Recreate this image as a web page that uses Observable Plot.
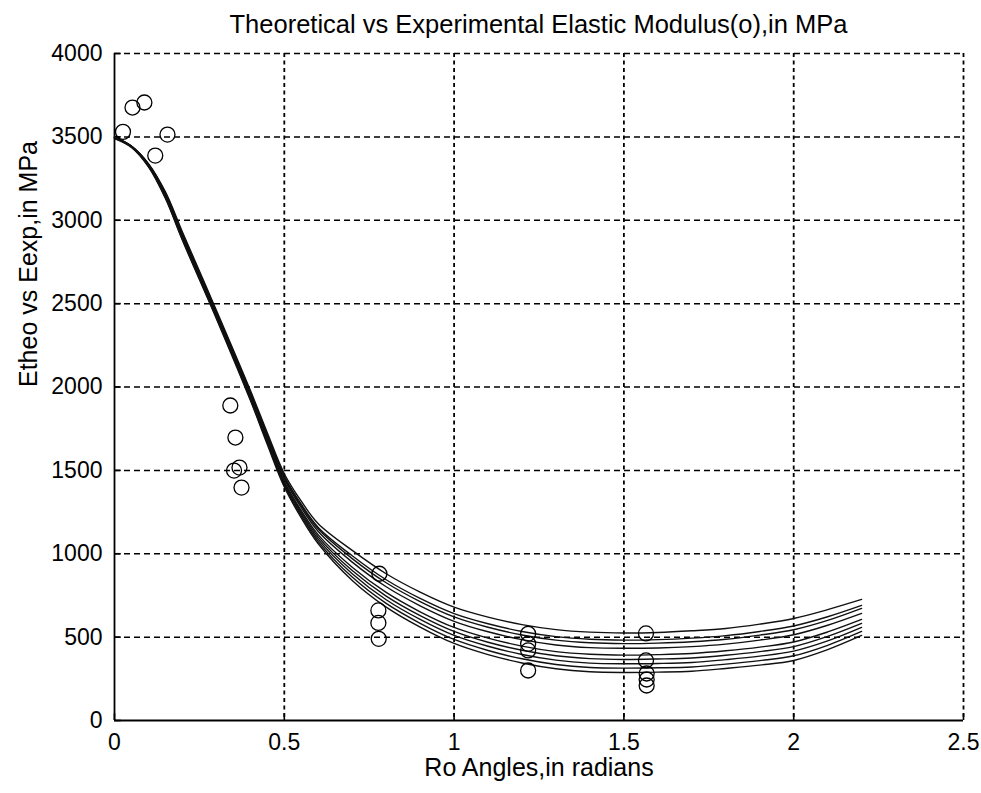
<!DOCTYPE html>
<html><head><meta charset="utf-8">
<script src="https://cdn.jsdelivr.net/npm/d3@7"></script>
<script src="https://cdn.jsdelivr.net/npm/@observablehq/plot@0.6"></script>
<style>
body{margin:0;background:#fff;}
#title{height:40px;box-sizing:border-box;padding:8px 18px 0 114px;text-align:center;font:25.5px "Liberation Sans",Arial,sans-serif;line-height:32px;color:#000;white-space:nowrap;}
</style></head><body>
<div id="title">Theoretical vs Experimental Elastic Modulus(o),in MPa</div>
<div id="chart"></div>
<script>
// tick values
const xTicks = [0, 0.5, 1, 1.5, 2, 2.5];
const yTicks = [0, 500, 1000, 1500, 2000, 2500, 3000, 3500, 4000];
const xGridLines = [0.5, 1, 1.5, 2, 2.5];
const yGridLines = [500, 1000, 1500, 2000, 2500, 3000, 3500, 4000];

// theoretical curves (angle in radians -> E in MPa)
const theoAngles = [0, 0.05, 0.1, 0.15, 0.2, 0.3, 0.4, 0.45, 0.5, 0.55, 0.6, 0.7, 0.8, 0.9, 1.0, 1.1, 1.2, 1.3, 1.4, 1.5, 1.6, 1.7, 1.8, 1.9, 2.0, 2.1, 2.2];
const curve1 = [3500, 3445, 3340, 3170, 2930, 2460, 1980, 1725, 1480, 1315, 1180, 1020, 880, 770, 680, 620, 575, 545, 530, 525, 528, 538, 552, 578, 612, 665, 726];
const curve2 = [3499, 3444, 3337, 3163, 2921, 2451, 1969, 1712, 1466, 1297, 1158, 988, 844, 732, 641, 580, 534, 503, 487, 482, 485, 494, 509, 534, 567, 622, 690];
const curve3 = [3498, 3443, 3335, 3159, 2916, 2446, 1964, 1706, 1458, 1288, 1148, 971, 826, 713, 621, 559, 513, 482, 466, 461, 464, 472, 487, 512, 544, 600, 672];
const curve4 = [3497, 3443, 3333, 3155, 2910, 2440, 1957, 1698, 1449, 1276, 1133, 950, 802, 688, 595, 532, 485, 453, 437, 433, 435, 443, 458, 482, 514, 571, 642];
const curve5 = [3496, 3442, 3330, 3148, 2902, 2432, 1946, 1686, 1435, 1259, 1113, 919, 768, 652, 558, 494, 446, 413, 397, 392, 395, 402, 418, 440, 471, 531, 606];
const curve6 = [3494, 3441, 3328, 3144, 2896, 2426, 1940, 1679, 1426, 1249, 1100, 899, 746, 629, 534, 469, 421, 388, 371, 366, 369, 375, 391, 413, 443, 504, 582];
const curve7 = [3493, 3440, 3326, 3140, 2891, 2421, 1933, 1671, 1418, 1238, 1086, 880, 724, 606, 510, 445, 396, 362, 344, 340, 342, 348, 365, 386, 416, 477, 558];
const curve8 = [3492, 3439, 3323, 3135, 2885, 2415, 1927, 1664, 1409, 1227, 1073, 860, 702, 583, 486, 420, 370, 336, 318, 314, 316, 321, 338, 359, 388, 451, 534];
const curve9 = [3490, 3437, 3320, 3130, 2880, 2410, 1920, 1655, 1400, 1215, 1060, 840, 680, 560, 462, 395, 345, 310, 292, 288, 290, 295, 312, 332, 360, 425, 510];

// experimental points
const expAngles = [0.025, 0.053, 0.088, 0.156, 0.12,
                   0.341, 0.356, 0.352, 0.368, 0.374,
                   0.78, 0.777, 0.777, 0.778,
                   1.218, 1.218, 1.218, 1.218,
                   1.565, 1.565, 1.567, 1.567, 1.567];
const expModulus = [3530, 3676, 3706, 3514, 3388,
                    1889, 1697, 1499, 1517, 1397,
                    880, 660, 585, 490,
                    520, 460, 420, 300,
                    522, 360, 282, 246, 210];

const curves = [curve1, curve2, curve3, curve4, curve5, curve6, curve7, curve8, curve9];
const theo = curves.flatMap((c, i) => c.map((v, j) => ({angle: theoAngles[j], E: v, k: i})));
const exp = expAngles.map((a, i) => ({angle: a, E: expModulus[i]}));

const font = '"Liberation Sans", Arial, sans-serif';
const chart = Plot.plot({
  width: 981, height: 753,
  marginLeft: 114, marginRight: 18, marginTop: 13, marginBottom: 73,
  style: {fontFamily: font, fontSize: "23px", color: "#000", background: "#fff", overflow: "visible"},
  x: {domain: [0, 2.5], ticks: xTicks, tickFormat: d => String(d), tickSize: 0, tickPadding: 13, label: null},
  y: {domain: [0, 4000], ticks: yTicks, tickFormat: d => String(d), tickSize: 0, tickPadding: 12, label: null},
  marks: [
    Plot.ruleY(yGridLines, {stroke: "#000", strokeWidth: 1.5, strokeDasharray: "6,4"}),
    Plot.ruleX(xGridLines, {stroke: "#000", strokeWidth: 1.8, strokeDasharray: "4,3.5"}),
    Plot.ruleX([0], {stroke: "#000", strokeWidth: 1.8}),
    Plot.ruleY([0], {stroke: "#000", strokeWidth: 1.8}),
    Plot.ruleX(xTicks, {x: d => d, y1: 0, y2: 40, stroke: "#000", strokeWidth: 1.6}),
    Plot.ruleY(yTicks, {y: d => d, x1: 0, x2: 0.02, stroke: "#000", strokeWidth: 1.6}),
    Plot.line(theo, {x: "angle", y: "E", z: "k", stroke: "#111", strokeWidth: 1.4, curve: "catmull-rom"}),
    Plot.dot(exp, {x: "angle", y: "E", r: 7.5, stroke: "#000", strokeWidth: 1.3, fill: "none"}),
    Plot.text(["Ro Angles,in radians"], {frameAnchor: "bottom", dy: 55, fontSize: 25, fill: "#000"}),
    Plot.text(["Etheo vs Eexp,in MPa"], {frameAnchor: "left", dx: -86, rotate: -90, fontSize: 25, fill: "#000"})
  ]
});
document.getElementById("chart").appendChild(chart);
</script>
</body></html>
